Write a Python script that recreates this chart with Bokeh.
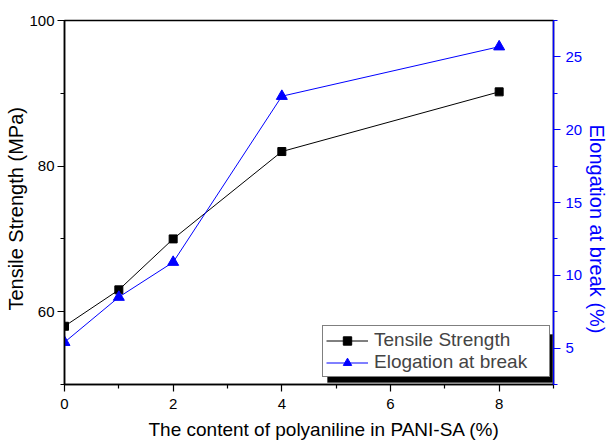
from bokeh.plotting import figure
from bokeh.models import (Range1d, LinearAxis, FixedTicker, Legend, LegendItem, BoxAnnotation, Title, Label)
from bokeh.embed import file_html
from bokeh.resources import INLINE

content = [0, 1, 2, 4, 8]
tensile = [58.0, 63.0, 70.0, 82.0, 90.2]
elongation = [5.4, 8.5, 10.9, 22.3, 25.7]

x_ticks = [0, 2, 4, 6, 8]
x_minor = [1, 3, 5, 7, 9]
left_ticks = [60, 80, 100]
left_minor = [50, 70, 90]
right_ticks = [5, 10, 15, 20, 25]
right_minor = [2.5, 7.5, 12.5, 17.5, 22.5, 27.5]

x_title = "The content of polyaniline in PANI-SA (%)"
left_title = "Tensile Strength (MPa)"
right_title = "Elongation at break (%)"
names = ["Tensile Strength", "Elogation at break"]

FONT = "Liberation Sans"
BLUE = "#0000ff"

p = figure(width=609, height=441, output_backend="svg", toolbar_location=None,
           x_range=Range1d(0, 9), y_range=Range1d(50, 100),
           min_border_left=64, min_border_right=55, min_border_top=20, min_border_bottom=57)
p.extra_y_ranges = {"el": Range1d(2.5, 27.5)}
p.grid.visible = False
p.outline_line_color = "black"
p.outline_line_width = 1.5
p.background_fill_color = "white"
p.border_fill_color = "white"

def style_axis(ax, color):
    ax.axis_line_color = color
    ax.axis_line_width = 1.5
    ax.major_tick_line_color = color
    ax.minor_tick_line_color = color
    ax.major_tick_line_width = 1.2
    ax.minor_tick_line_width = 1.2
    ax.major_tick_out = 7
    ax.major_tick_in = 0
    ax.minor_tick_out = 4
    ax.minor_tick_in = 0
    ax.major_label_text_font = FONT
    ax.major_label_text_font_size = "15px"
    ax.major_label_text_color = color

xa = p.xaxis[0]
xa.ticker = FixedTicker(ticks=x_ticks, minor_ticks=x_minor)
style_axis(xa, "black")
xa.major_label_standoff = 7

ya = p.yaxis[0]
ya.ticker = FixedTicker(ticks=left_ticks, minor_ticks=left_minor)
style_axis(ya, "black")
ya.major_label_standoff = 3

ra = LinearAxis(y_range_name="el", ticker=FixedTicker(ticks=right_ticks, minor_ticks=right_minor))
style_axis(ra, BLUE)
ra.major_label_standoff = 5
p.add_layout(ra, "right")

def side_title(text, place, offset, color):
    t = Title(text=text, align="left", offset=offset, text_font=FONT,
              text_font_size="20px", text_font_style="normal", text_color=color,
              standoff=0)
    p.add_layout(t, place)

side_title(left_title, "left", 74, "black")
side_title(right_title, "right", 104, BLUE)

xlab = Label(x=84, y=-7, x_units="screen", y_units="screen", text=x_title,
             text_font=FONT, text_font_size="19px", text_color="black",
             text_align="left", text_baseline="bottom")
p.add_layout(xlab, "below")

l1 = p.line(content, tensile, line_color="black", line_width=1)
s1 = p.scatter(content, tensile, marker="square", size=8, fill_color="black", line_color="black")
l2 = p.line(content, elongation, line_color=BLUE, line_width=1, y_range_name="el")
s2 = p.scatter(content, elongation, marker="triangle", size=11, fill_color=BLUE, line_color=BLUE,
               y_range_name="el")

shadow = BoxAnnotation(left=263, right=488, bottom=2, top=50,
                       left_units="screen", right_units="screen",
                       bottom_units="screen", top_units="screen",
                       fill_color="black", fill_alpha=1.0, line_color="black")
p.add_layout(shadow)

legend = Legend(items=[LegendItem(label=names[0], renderers=[l1, s1]),
                       LegendItem(label=names[1], renderers=[l2, s2])],
                location=(258, 7), orientation="vertical")
legend.label_text_font = FONT
legend.label_text_font_size = "19px"
legend.glyph_width = 42
legend.glyph_height = 21
legend.label_height = 21
legend.label_width = 172
legend.label_standoff = 6
legend.spacing = 0
legend.padding = 3
legend.margin = 0
legend.border_line_color = "black"
legend.border_line_width = 1.2
legend.background_fill_color = "white"
legend.background_fill_alpha = 1.0
p.add_layout(legend, "center")

open("out.html", "w").write(file_html(p, INLINE))
